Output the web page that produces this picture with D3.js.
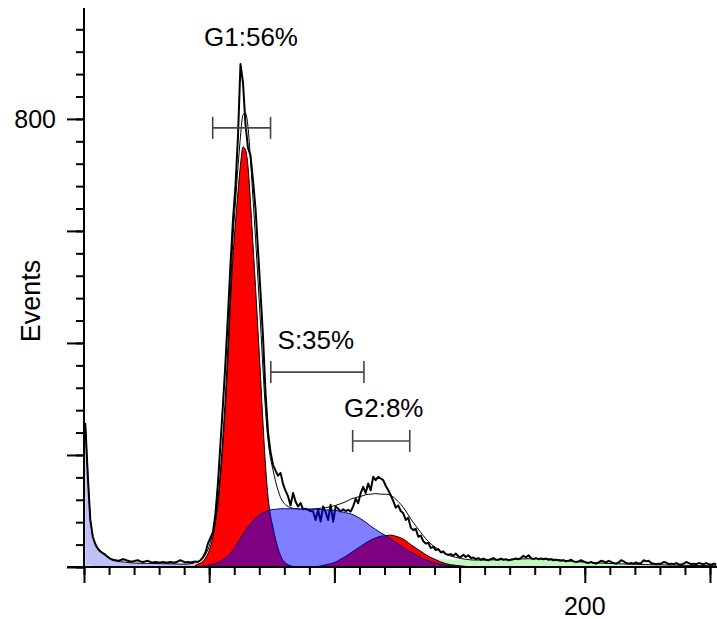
<!DOCTYPE html>
<html>
<head>
<meta charset="utf-8">
<script src="https://d3js.org/d3.v7.min.js"></script>
<style>
body { margin: 0; background: #fff; }
text { font-family: Arial, "Liberation Sans", sans-serif; fill: #000; }
</style>
</head>
<body>
<div id="chart"></div>
<script>

// raw histogram, one count per channel (0..252)
var rawCounts = [
	257,165,85,54,41,33,28,25,22,18,
	15,13,12,11,12,14,13,11,10,10,
	11,12,10,9,10,11,9,8,9,8,
	8,9,8,8,9,8,8,10,12,10,
	8,9,8,9,10,9,12,17,26,42,
	52,62,95,150,220,290,365,450,540,620,
	680,770,898,865,790,748,735,690,640,565,
	490,410,310,240,205,182,172,163,168,148,
	136,126,110,132,117,108,114,103,104,102,
	100,99,84,102,81,108,98,84,111,81,
	108,104,99,103,100,102,99,108,122,114,
	132,143,132,149,137,161,155,161,158,155,
	145,137,128,118,106,110,100,96,84,88,
	70,66,68,54,56,46,42,43,34,36,
	30,32,26,28,23,22,23,20,24,19,
	18,22,18,21,16,17,14,16,13,15,
	13,12,14,16,13,13,15,13,14,12,
	13,14,15,14,16,20,17,21,16,14,
	16,14,15,14,15,13,14,12,13,12,
	11,12,10,11,13,10,9,10,12,10,
	8,7,9,7,6,8,11,10,8,11,
	9,7,6,8,12,10,7,6,7,6,
	8,6,7,12,10,11,7,6,5,6,
	6,9,8,5,6,5,7,5,4,6,
	9,7,5,6,5,7,6,5,7,5,
	4,6,5
];

// model components, [channel, count]
var debris = [[0,257],[1,165],[2,85],[3,54],[4,40],[5,32],[6,27],[7,24],[8,21],[9,17],[10,14],[11,12.5],[12,11],[13,10],[14,9.5],[15,9],[16,8.5],[17,8],[18,7.5],[19,7.3],[20,7],[22,6.8],[24,6.6],[26,6.4],[28,6.2],[30,6],[32,5.8],[34,5.6],[36,5.4],[38,5.2],[40,5],[42,4.8],[44,4.6],[46,4.4],[48,4.2],[50,4],[52,3.5],[54,3],[56,2],[58,1],[60,0]];

var g1 = [[44,3],[45,5],[46,7],[47,10],[48,16],[49,24],[50,36],[51,54],[52,80],[53,112],[54,160],[55,220],[56,290],[57,375],[58,470],[59,555],[60,615],[61,670],[62,718],[63,750],[64,745],[65,715],[66,650],[67,575],[68,500],[69,420],[70,340],[71,255],[72,180],[73,125],[74,92],[75,70],[76,50],[77,33],[78,20],[79,12],[80,7],[81,4],[82,2],[83,1],[84,0]];

var sPhase = [[44,0],[46,1],[48,2],[50,4],[52,6],[54,10],[56,16],[58,24],[60,37],[62,51],[64,65],[66,77],[68,87],[70,94],[72,99],[74,102],[76,103],[78,104],[80,104],[84,104],[88,103],[92,103],[96,102],[100,101],[102,99],[104,97],[106,95],[108,91],[110,86],[112,80],[114,73],[116,67],[118,61],[120,56],[122,50],[124,44],[126,38],[128,32],[130,27],[132,22],[134,17],[136,13],[138,9.5],[140,7],[142,5],[144,3.5],[146,2],[148,1],[150,0]];

var g2 = [[92,0],[94,2],[96,4],[98,6],[100,9],[102,14],[104,19],[106,25],[108,31],[110,37],[112,43],[114,48],[116,52],[118,55],[120,56],[122,57],[124,55],[126,52],[128,47],[130,40],[132,34],[134,28],[136,22],[138,17],[140,13],[142,9],[144,6],[146,4],[148,3],[150,2],[152,1],[154,0]];

var aggregates = [[0,0],[1,3],[2,4],[3,2.5],[4,0],[100,0],[105,1],[110,3],[115,9],[118,14],[120,18],[122,21],[124,22],[126,22],[128,21],[130,19],[132,17.5],[134,16.5],[136,15.5],[138,15],[140,14.5],[143,14],[146,13.5],[150,13],[155,12.5],[160,12.5],[165,13],[170,13.5],[175,14.5],[180,15],[185,14.5],[190,12.5],[195,10],[200,8.5],[205,7.2],[210,6.2],[215,5.4],[220,4.8],[225,4.2],[230,3.8],[235,3.4],[240,3],[245,2.6],[250,2.3],[252,2.2]];

var fitted = [[0,257],[1,168],[2,89],[3,56.5],[4,40],[5,32],[6,27],[7,24],[8,21],[9,17],[10,14],[12,11],[14,9.5],[16,8.5],[18,7.5],[20,7],[25,6.5],[30,6],[35,5.5],[40,5],[44,7.6],[46,12.4],[48,22],[50,44],[51,63],[52,90],[53,123],[54,173],[55,236],[56,308],[57,397],[58,495],[59,586],[60,652],[61,714],[62,769],[63,808],[64,810],[65,786],[66,727],[67,657],[68,587],[69,511],[70,434],[71,352],[72,279],[73,226],[74,194],[75,173],[76,153],[77,137],[78,124],[79,116],[80,111],[82,106],[84,104],[88,103],[92,104],[96,106],[100,110],[102,113],[104,116.5],[106,121],[108,124],[110,126],[112,129],[114,130],[116,131],[118,130],[120,130],[122,128],[124,121],[126,112],[128,100],[130,86],[132,73.5],[134,61.5],[136,50.5],[138,41.5],[140,34.5],[142,28],[144,23],[146,19.5],[148,17.3],[150,15],[152,13.8],[155,12.5],[160,12.5],[165,13],[170,13.5],[175,14.5],[180,15],[185,14.5],[190,12.5],[195,10],[200,8.5],[205,7.2],[210,6.2],[215,5.4],[220,4.8],[225,4.2],[230,3.8],[235,3.4],[240,3],[245,2.6],[250,2.3],[252,2.2]];

// gate markers
var gateLabels = ["G1:56%", "S:35%", "G2:8%"];
var gateFrom = [51.4, 74.6, 107.3];
var gateTo = [74.5, 111.8, 130.1];
var gateLevel = [784, 348, 225];
var gateLabelAt = [66.7, 92.6, 119.7];
var gateLabelLevel = [930, 390, 268];

var xLabels = [200];
var yLabels = [800];

var width = 717, height = 619;

var svg = d3.select("#chart").append("svg")
	.attr("width", width)
	.attr("height", height);

var x = d3.scaleLinear().domain([0, 252.8]).range([84, 717]);
var y = d3.scaleLinear().domain([0, 998]).range([567, 8]);

// channel centre
function cx(ch) { return x(ch + 0.5); }

var area = d3.area()
	.x(function(d) { return cx(d[0]); })
	.y0(y(0))
	.y1(function(d) { return y(d[1]); })
	.curve(d3.curveMonotoneX);

var smooth = d3.line()
	.x(function(d) { return cx(d[0]); })
	.y(function(d) { return y(d[1]); })
	.curve(d3.curveMonotoneX);

var rawLine = d3.line()
	.x(function(d, i) { return cx(i); })
	.y(function(d) { return y(d); });

var plot = svg.append("g");

plot.append("path").datum(debris)
	.attr("d", area)
	.attr("fill", "#c0c0f8");

plot.append("path").datum(aggregates)
	.attr("d", area)
	.attr("fill", "#c0f8c0");

[g1, g2].forEach(function(comp) {
	plot.append("path").datum(comp)
		.attr("d", area)
		.attr("fill", "#ff0000")
		.attr("stroke", "#000")
		.attr("stroke-width", 1);
});

plot.append("path").datum(rawCounts)
	.attr("d", rawLine)
	.attr("fill", "none")
	.attr("stroke", "#000")
	.attr("stroke-width", 2)
	.attr("stroke-linejoin", "round");

plot.append("path").datum(fitted)
	.attr("d", smooth)
	.attr("fill", "none")
	.attr("stroke", "#000")
	.attr("stroke-width", 1);

// S phase is see-through, so red under it turns purple
plot.append("path").datum(sPhase)
	.attr("d", area)
	.attr("fill", "#0000ff")
	.attr("fill-opacity", 0.5)
	.attr("stroke", "#000080")
	.attr("stroke-width", 1);

// gates
var gates = svg.append("g");
gateLabels.forEach(function(lab, i) {
	var gy = y(gateLevel[i]);
	var x0 = x(gateFrom[i]), x1 = x(gateTo[i]);
	gates.append("line")
		.attr("x1", x0).attr("x2", x1)
		.attr("y1", gy).attr("y2", gy);
	gates.append("line")
		.attr("x1", x0).attr("x2", x0)
		.attr("y1", gy - 11).attr("y2", gy + 11);
	gates.append("line")
		.attr("x1", x1).attr("x2", x1)
		.attr("y1", gy - 11).attr("y2", gy + 11);
	gates.append("text")
		.attr("x", x(gateLabelAt[i]))
		.attr("y", y(gateLabelLevel[i]))
		.attr("text-anchor", "middle")
		.style("font-size", "26px")
		.text(lab);
});
gates.selectAll("line")
	.attr("stroke", "#444")
	.attr("stroke-width", 1.6);

// axes
var axes = svg.append("g");

axes.append("g")
	.attr("transform", "translate(0," + y(0) + ")")
	.call(d3.axisBottom(x).tickValues(d3.range(0, 251, 10)).tickSize(8).tickSizeOuter(0).tickFormat(""));
axes.append("g")
	.attr("transform", "translate(0," + y(0) + ")")
	.call(d3.axisBottom(x).tickValues(d3.range(0, 251, 50)).tickSize(16).tickSizeOuter(0).tickFormat(""));
axes.append("g")
	.attr("transform", "translate(" + x(0) + ",0)")
	.call(d3.axisLeft(y).tickValues(d3.range(0, 961, 40)).tickSize(8).tickSizeOuter(0).tickFormat(""));
axes.append("g")
	.attr("transform", "translate(" + x(0) + ",0)")
	.call(d3.axisLeft(y).tickValues(d3.range(0, 801, 200)).tickSize(17).tickSizeOuter(0).tickFormat(""));

axes.selectAll(".domain").remove();
axes.selectAll(".tick line").attr("stroke", "#000").attr("stroke-width", 2);

axes.append("line")
	.attr("x1", 67).attr("x2", width)
	.attr("y1", y(0)).attr("y2", y(0))
	.attr("stroke", "#000").attr("stroke-width", 2);
axes.append("line")
	.attr("x1", x(0)).attr("x2", x(0))
	.attr("y1", y(998)).attr("y2", y(0))
	.attr("stroke", "#000").attr("stroke-width", 2);

axes.selectAll(".xlab").data(xLabels).enter().append("text")
	.attr("class", "xlab")
	.attr("x", function(d) { return x(d); })
	.attr("y", 615)
	.attr("text-anchor", "middle")
	.style("font-size", "25px")
	.text(function(d) { return d; });

axes.selectAll(".ylab").data(yLabels).enter().append("text")
	.attr("class", "ylab")
	.attr("x", 56)
	.attr("y", function(d) { return y(d); })
	.attr("dy", "0.36em")
	.attr("text-anchor", "end")
	.style("font-size", "25px")
	.text(function(d) { return d; });

svg.append("text")
	.attr("transform", "translate(40,301) rotate(-90)")
	.attr("text-anchor", "middle")
	.style("font-size", "27px")
	.text("Events");

</script>
</body>
</html>
